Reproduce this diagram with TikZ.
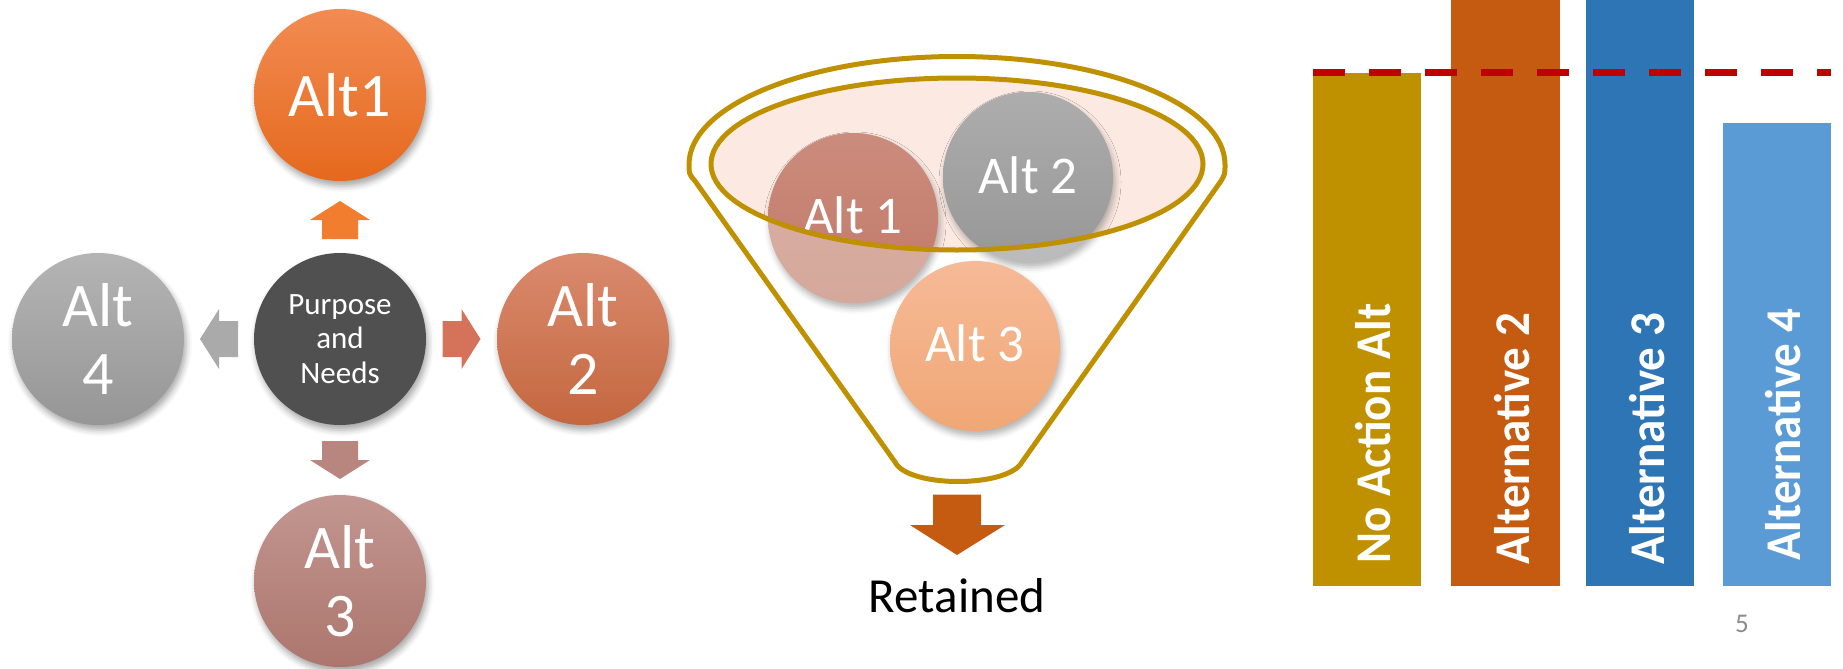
\documentclass[tikz,border=0pt]{standalone}
\usepackage{fontspec}
\usepackage{graphicx}
\setmainfont{Carlito}
\usetikzlibrary{shadows.blur,calc}
\definecolor{aonetop}{HTML}{F28B52}
\definecolor{aonebot}{HTML}{E5691D}
\definecolor{pncol}{HTML}{505050}
\definecolor{atwotop}{HTML}{DA8A6E}
\definecolor{atwobot}{HTML}{C4673F}
\definecolor{athreetop}{HTML}{C29690}
\definecolor{athreebot}{HTML}{AC766E}
\definecolor{afourtop}{HTML}{B4B4B4}
\definecolor{afourbot}{HTML}{969696}
\definecolor{arrup}{HTML}{F27D2E}
\definecolor{arrright}{HTML}{D4735A}
\definecolor{arrleft}{HTML}{AAAAAA}
\definecolor{arrdown}{HTML}{B8867E}
\definecolor{gold}{HTML}{BF9000}
\definecolor{pinkfill}{HTML}{FBE9E2}
\definecolor{fonelt}{HTML}{DBB0A5}
\definecolor{fonelb}{HTML}{D5A89B}
\definecolor{fonedt}{HTML}{CB8C7D}
\definecolor{fonedb}{HTML}{C17868}
\definecolor{ftwolt}{HTML}{C2C2C2}
\definecolor{ftwolb}{HTML}{BBBBBB}
\definecolor{ftwodt}{HTML}{ADADAD}
\definecolor{ftwodb}{HTML}{979797}
\definecolor{fthreet}{HTML}{F6BA97}
\definecolor{fthreeb}{HTML}{F0A775}
\definecolor{retc}{HTML}{C55A11}
\definecolor{barone}{HTML}{BF9000}
\definecolor{bartwo}{HTML}{C55A11}
\definecolor{barthree}{HTML}{2E75B6}
\definecolor{barfour}{HTML}{5B9BD5}
\definecolor{dashred}{HTML}{C00000}
\definecolor{pagegray}{HTML}{8C8C8C}
\begin{document}
\begin{tikzpicture}[x=0.5pt,y=-0.5pt,
  bigc/.style={circle, minimum size=86pt, inner sep=0pt, text=white, align=center,
    font=\fontsize{31}{34}\selectfont,
    blur shadow={shadow xshift=1pt, shadow yshift=-2.5pt, shadow blur radius=3pt, shadow opacity=35}},
  fc/.style={circle, minimum size=85pt, inner sep=0pt,
    blur shadow={shadow xshift=1pt, shadow yshift=-2.5pt, shadow blur radius=3pt, shadow opacity=30}},
  ftext/.style={text=white, inner sep=0pt, font=\fontsize{26.5}{30}\selectfont},
  funnel/.style={draw=gold, line width=2.5pt, line join=round},
  barlab/.style={rotate=90, anchor=base west, inner sep=0pt, text=white,
    font=\bfseries\fontsize{25}{30}\selectfont},
  blockarrow/.pic={\path[pic actions] (-19,-18) -- (0,-18) -- (0,-30) -- (19,0) -- (0,30) -- (0,18) -- (-19,18) -- cycle;}
]
\useasboundingbox (0,0) rectangle (1843,669);

% ---------- left: purpose and needs ----------
\node[bigc, top color=aonetop, bottom color=aonebot] (alt1) at (340,95) {Alt1};
\node[bigc, fill=pncol, font=\fontsize{15.5}{17.3}\selectfont] (pn) at (340,339) {Purpose\\and\\Needs};
\node[bigc, top color=atwotop, bottom color=atwobot] (alt2) at (583,339) {Alt\\2};
\node[bigc, top color=athreetop, bottom color=athreebot] (alt3) at (340,581) {Alt\\3};
\node[bigc, top color=afourtop, bottom color=afourbot] (alt4) at (98,339) {Alt\\4};

\pic[fill=arrup, rotate=90] at ($(pn.north)!0.5!(alt1.south)+(0,3)$) {blockarrow};
\pic[fill=arrright] at ($(pn.east)!0.5!(alt2.west)$) {blockarrow};
\pic[fill=arrdown, rotate=-90] at ($(pn.south)!0.5!(alt3.north)$) {blockarrow};
\pic[fill=arrleft, rotate=180] at ($(pn.west)!0.5!(alt4.east)$) {blockarrow};

% ---------- middle: funnel ----------
\draw[funnel] (895,462) -- (695,181) .. controls (689,174) .. (689,164.5)
  arc[start angle=180, end angle=360, x radius=268, y radius=108]
  .. controls (1225,174) .. (1221,181) -- (1022,462)
  .. controls (1008,488) and (908,488) .. cycle;
\fill[pinkfill] (957,164) ellipse [x radius=246, y radius=86];

\node[fc, top color=fonelt, bottom color=fonelb] (f1) at (853,218) {};
\node[fc, top color=ftwolt, bottom color=ftwolb] (f2) at (1028,177) {};
\node[fc, top color=fthreet, bottom color=fthreeb] (f3) at (975,346) {};
\begin{scope}
  \clip (957,164) ellipse [x radius=246, y radius=86];
  \shade[top color=fonedt, bottom color=fonedb] (f1.center) circle [radius=85];
  \shade[top color=ftwodt, bottom color=ftwodb] (f2.center) circle [radius=85];
\end{scope}
\node[ftext] (f1t) at (853,215) {Alt 1};
\node[ftext] (f2t) at (1028,175) {Alt 2};
\node[ftext] (f3t) at (975,343) {Alt 3};
\draw[draw=gold, line width=2.5pt] (957,164) ellipse [x radius=246, y radius=86];

\fill[retc] (933,494.5) -- (981,494.5) -- (981,525) -- (1005,525) -- (957,555) -- (910,525) -- (933,525) -- cycle;
\node[anchor=base, inner sep=0pt, font=\fontsize{24.5}{29}\selectfont] (ret) at (957,612.5) {Retained};

% ---------- right: bar chart ----------
\fill[barone] (1313,72.5) rectangle (1421,586);
\fill[bartwo] (1451,0) rectangle (1560,586);
\fill[barthree] (1586,0) rectangle (1694,586);
\fill[barfour] (1723,123) rectangle (1831,586);
\draw[dashred, line width=3.5pt, dash pattern=on 16pt off 12pt] (1313,72.5) -- (1831,72.5);
\node[barlab] (l1) at (1390,564) {\scalebox{0.94}[1]{No Action Alt}};
\node[barlab] (l2) at (1529,565) {\scalebox{0.94}[1]{Alternative 2}};
\node[barlab] (l3) at (1664,565) {\scalebox{0.94}[1]{Alternative 3}};
\node[barlab] (l4) at (1800,561) {\scalebox{0.94}[1]{Alternative 4}};
\node[text=pagegray, inner sep=0pt, font=\fontsize{13.5}{16}\selectfont] (pg) at (1742,624) {5};
\end{tikzpicture}
\end{document}
